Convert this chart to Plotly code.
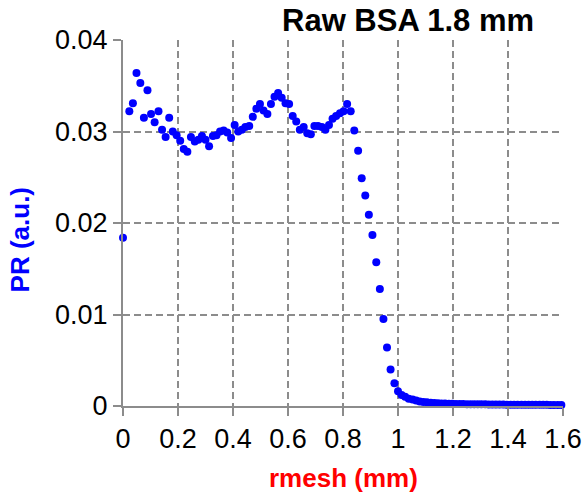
import plotly.graph_objects as go

rmesh = [0.0,
         0.023, 0.036, 0.049, 0.063, 0.076, 0.089, 0.102, 0.115, 0.129, 0.142,
         0.155, 0.168, 0.181, 0.195, 0.208, 0.221, 0.234, 0.247, 0.261, 0.274,
         0.287, 0.300, 0.313, 0.327, 0.340, 0.353, 0.366, 0.379, 0.393, 0.406,
         0.419, 0.432, 0.445, 0.459, 0.472, 0.485, 0.498, 0.511, 0.525, 0.538,
         0.551, 0.564, 0.577, 0.591, 0.604, 0.617, 0.630, 0.643, 0.657, 0.670,
         0.683, 0.696, 0.709, 0.723, 0.736, 0.749, 0.762, 0.775, 0.789, 0.802,
         0.815, 0.828, 0.841, 0.855, 0.868, 0.881, 0.894, 0.907, 0.921, 0.934,
         0.947, 0.960, 0.973, 0.987, 1.000, 1.013, 1.026, 1.039, 1.053, 1.066,
         1.079, 1.092, 1.105, 1.119, 1.132, 1.145, 1.158, 1.171, 1.185, 1.198,
         1.211, 1.224, 1.237, 1.251, 1.264, 1.277, 1.290, 1.303, 1.317, 1.330,
         1.343, 1.356, 1.369, 1.383, 1.396, 1.409, 1.422, 1.435, 1.449, 1.462,
         1.475, 1.488, 1.501, 1.515, 1.528, 1.541, 1.554, 1.567, 1.581, 1.594]

pr = [0.0184,
      0.0322, 0.0331, 0.0364, 0.0353, 0.0315, 0.0345, 0.0319, 0.0310, 0.0322, 0.0302,
      0.0294, 0.0315, 0.0300, 0.0296, 0.0290, 0.0281, 0.0278, 0.0294, 0.0289, 0.0291,
      0.0295, 0.0291, 0.0284, 0.0295, 0.0296, 0.0300, 0.0301, 0.0299, 0.0293, 0.0307,
      0.0300, 0.0302, 0.0305, 0.0306, 0.0316, 0.0325, 0.0330, 0.0323, 0.0319, 0.0330,
      0.0338, 0.0342, 0.0337, 0.0331, 0.0330, 0.0317, 0.0311, 0.0302, 0.0305, 0.0298,
      0.0297, 0.0306, 0.0306, 0.0305, 0.0302, 0.0307, 0.0314, 0.0317, 0.0320, 0.0322,
      0.0330, 0.0322, 0.0301, 0.0279, 0.0249, 0.0230, 0.0209, 0.0187, 0.0157, 0.0128,
      0.0095, 0.0064, 0.0040, 0.0025, 0.0016, 0.0012, 0.0010, 0.0008, 0.0007, 0.0006,
      0.0005, 0.00045, 0.0004, 0.00036, 0.00033, 0.0003, 0.00028, 0.00026, 0.00025, 0.00024,
      0.00023, 0.00022, 0.00021, 0.0002, 0.0002, 0.00019, 0.00019, 0.00018, 0.00018, 0.00017,
      0.00017, 0.00016, 0.00016, 0.00016, 0.00015, 0.00015, 0.00015, 0.00014, 0.00014, 0.00014,
      0.00014, 0.00013, 0.00013, 0.00013, 0.00013, 0.00013, 0.00012, 0.00012, 0.00012, 0.00012]

x_ticks = [0, 0.2, 0.4, 0.6, 0.8, 1.0, 1.2, 1.4, 1.6]
x_tick_text = ["0", "0.2", "0.4", "0.6", "0.8", "1", "1.2", "1.4", "1.6"]
y_ticks = [0, 0.01, 0.02, 0.03, 0.04]
y_tick_text = ["0", "0.01", "0.02", "0.03", "0.04"]

title_text = "Raw BSA 1.8 mm"
x_title = "rmesh (mm)"
y_title = "PR (a.u.)"

FONT = "Liberation Sans, Arial, sans-serif"

fig = go.Figure()
fig.add_trace(go.Scatter(
    x=rmesh, y=pr, mode="markers",
    marker=dict(color="#0000FF", size=8, line=dict(width=0)),
    cliponaxis=False, showlegend=False,
))

axis_common = dict(
    showline=True, linecolor="#8c8c8c", linewidth=2,
    showgrid=True, gridcolor="#8c8c8c", gridwidth=1.5, griddash="7px,4px",
    zeroline=False, ticks="outside", ticklen=8, tickwidth=1.5, tickcolor="#8c8c8c",
    tickfont=dict(family=FONT, size=27, color="black"),
    automargin=False,
)

fig.update_xaxes(range=[0, 1.6], tickvals=x_ticks, ticktext=x_tick_text, **axis_common)
fig.update_yaxes(range=[0, 0.04], tickvals=y_ticks, ticktext=y_tick_text, **axis_common)

fig.update_layout(
    width=585, height=492,
    margin=dict(l=123, r=22, t=40, b=86),
    paper_bgcolor="white", plot_bgcolor="white",
    annotations=[
        dict(text="<b>%s</b>" % title_text, xref="paper", yref="paper",
             x=0.648, y=1.052, xanchor="center", yanchor="middle", showarrow=False,
             font=dict(family=FONT, size=31, color="black")),
        dict(text="<b>%s</b>" % x_title, xref="paper", yref="paper",
             x=0.5, y=-0.197, xanchor="center", yanchor="middle", showarrow=False,
             font=dict(family=FONT, size=26, color="#FF0000")),
        dict(text="<b>%s</b>" % y_title, xref="paper", yref="paper",
             x=-0.235, y=0.454, xanchor="center", yanchor="middle", showarrow=False,
             textangle=-90, font=dict(family=FONT, size=26, color="#0000FF")),
    ],
)

fig.write_html("out.html")
